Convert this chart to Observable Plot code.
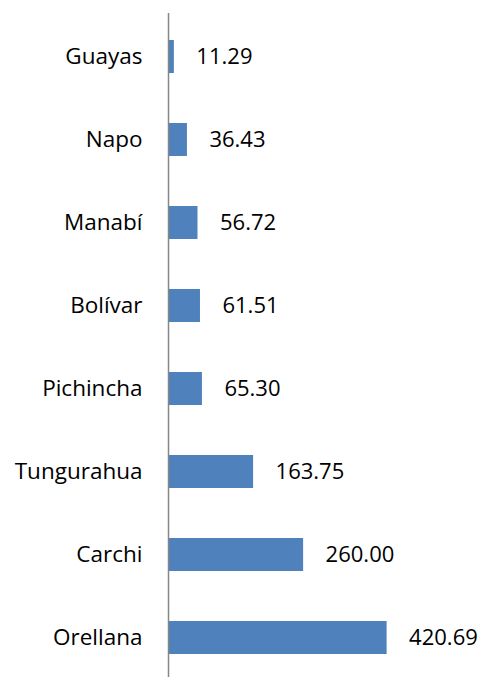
<!DOCTYPE html>
<html><head><meta charset="utf-8">
<script src="https://cdn.jsdelivr.net/npm/d3@7"></script>
<script src="https://cdn.jsdelivr.net/npm/@observablehq/plot@0.6"></script>
<style>body{margin:0;background:#fff;overflow:hidden}</style>
</head><body><div id="chart"></div>
<script>
const provinces = ["Guayas","Napo","Manabí","Bolívar","Pichincha","Tungurahua","Carchi","Orellana"];
const values = [11.29,36.43,56.72,61.51,65.30,163.75,260.00,420.69];
const labels = ["11.29","36.43","56.72","61.51","65.30","163.75","260.00","420.69"];
const data = provinces.map((p,i)=>({p, v: values[i], l: labels[i]}));
const chart = Plot.plot({
  width: 485, height: 677,
  marginLeft: 168, marginRight: 0, marginTop: 13, marginBottom: 0,
  style: {fontFamily: "'Open Sans', sans-serif", fontSize: "22px", color: "#000", background: "#fff"},
  x: {domain: [0, 610], axis: null},
  y: {domain: provinces, range: [13, 682], paddingInner: 0.6, paddingOuter: 0.3, label: null},
  marks: [
    Plot.barX(data, {y: "p", x: "v", fill: "#4F81BD"}),
    Plot.text(data, {y: "p", x: "v", text: "l", textAnchor: "start", dx: 22, fontSize: 22, fill: "#000"}),
    Plot.ruleX([0], {stroke: "#868686", strokeWidth: 1.5}),
    Plot.axisY({tickSize: 0, tickPadding: 26, fontSize: 22.5, label: null})
  ]
});
document.getElementById("chart").append(chart);
</script></body></html>
